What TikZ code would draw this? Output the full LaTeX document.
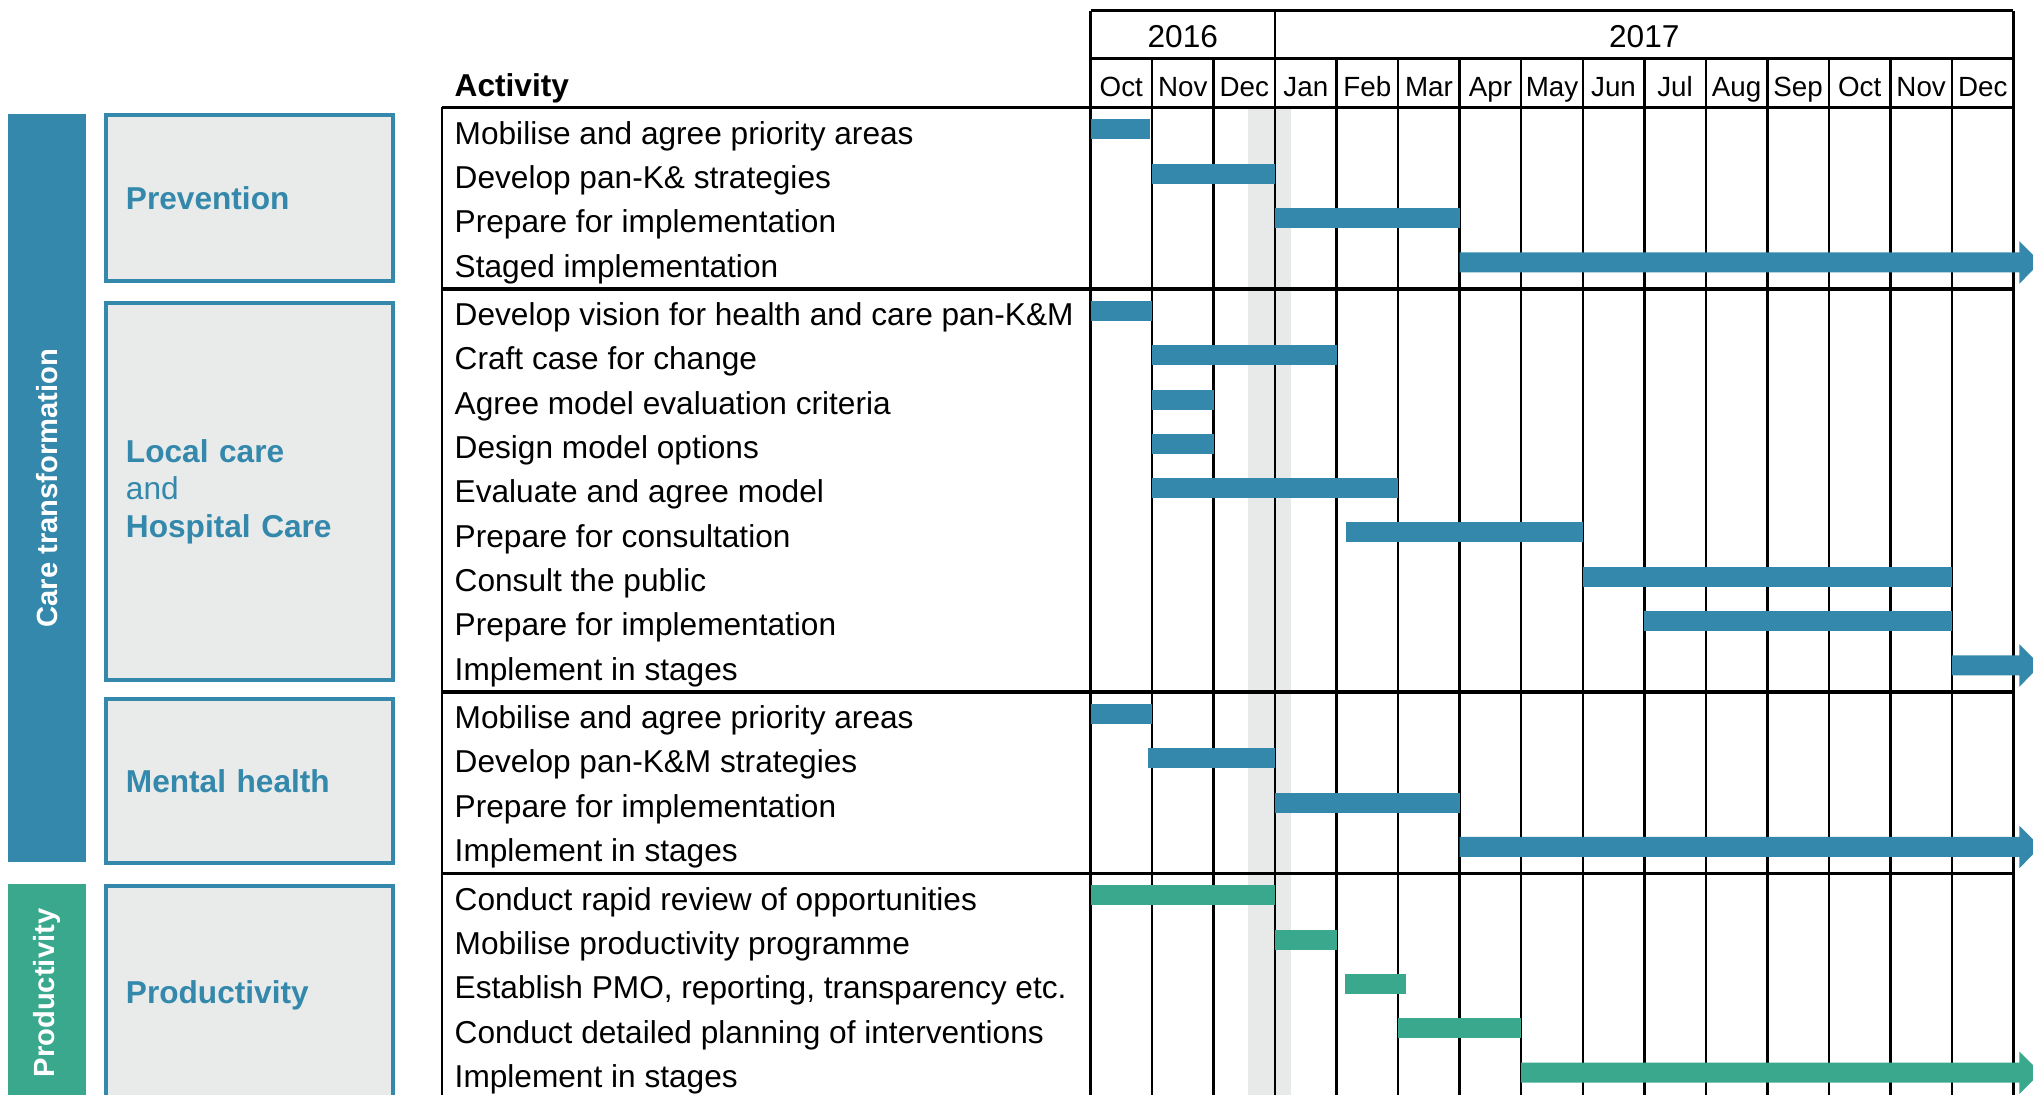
\documentclass[tikz,border=0pt]{standalone}
\usepackage{fontspec}
\setmainfont{Liberation Sans}
\usetikzlibrary{positioning,calc}
\definecolor{ctblue}{RGB}{51,136,171}
\definecolor{ctgreen}{RGB}{58,168,141}
\definecolor{boxgrey}{RGB}{233,235,234}
\definecolor{bandgrey}{RGB}{232,234,233}

\begin{document}
\begin{tikzpicture}[y=-1cm,
    declare function={rowy(\n)=1.335+0.443*\n+0.043*((\n>3)+(\n>12)+(\n>16));},
    every node/.style={font=\fontsize{9}{10.7}\selectfont, inner sep=0pt},
    actlbl/.style={anchor=base west},
    monthlbl/.style={anchor=base, font=\fontsize{7.9}{9}\selectfont},
    yearlbl/.style={anchor=base},
    secbox/.style={draw=ctblue, line width=1.1pt, fill=boxgrey, anchor=north west, minimum width=2.87cm,
        text width=2.47cm, inner xsep=0.2cm, align=left, text=ctblue, font=\fontsize{9}{10.7}\selectfont\bfseries},
    sidebar/.style={rotate=90, minimum height=0.777cm, text=white, font=\fontsize{8.3}{10}\selectfont\bfseries},
    gridline/.style={line width=0.7pt},
    sepline/.style={line width=0.9pt}]
    \useasboundingbox (0,0) rectangle (20.33,10.95);

    % left hand labels
    \node (care) [sidebar, fill=ctblue, minimum width=7.48cm] at (0.472,4.88) {Care transformation};
    \node (prodbar) [sidebar, fill=ctgreen, minimum width=2.18cm] at (0.472,9.93) {Productivity};
    \node (prev) [secbox, minimum height=1.66cm] at (1.04,1.13) {Prevention};
    \node (local) [secbox, minimum height=3.77cm] at (1.04,3.01) {Local care\\{\mdseries and}\\Hospital Care};
    \node (mental) [secbox, minimum height=1.64cm] at (1.04,6.97) {Mental health};
    \node (prod) [secbox, minimum height=2.18cm] at (1.04,8.84) {Productivity};

    % activities
    \node (acthead) [actlbl, font=\fontsize{9}{10.7}\selectfont\bfseries] at (4.54,0.967) {Activity};
    \foreach \txt [count=\i from 0] in {Mobilise and agree priority areas, Develop pan-K\& strategies,
        Prepare for implementation, Staged implementation,
        Develop vision for health and care pan-K\&M, Craft case for change, Agree model evaluation criteria,
        Design model options, Evaluate and agree model, Prepare for consultation, Consult the public,
        Prepare for implementation, Implement in stages,
        Mobilise and agree priority areas, Develop pan-K\&M strategies, Prepare for implementation,
        Implement in stages,
        Conduct rapid review of opportunities, Mobilise productivity programme,
        {Establish PMO, reporting, transparency etc.}, Conduct detailed planning of interventions,
        Implement in stages}
        \node (a\i) [actlbl] at (4.54,{rowy(\i)+0.107}) {\txt};

    \fill[bandgrey] (12.483,1.073) rectangle (12.907,11.1);

    % table rules
    \draw[sepline] (4.42,1.073) -- (20.135,1.073);
    \foreach \s in {2.89,6.92,8.735}
        \draw[sepline] (4.42,\s) -- (20.135,\s);
    \draw[gridline] (4.42,1.073) -- (4.42,11.1);

    \begin{scope}[shift={(10.905,0)}, x=0.6153cm]
        \draw[gridline] (0,0.107) -- (15,0.107);
        \draw[gridline] (0,0.583) -- (15,0.583);
        \foreach \k in {0,3,15}
            \draw[gridline] (\k,0.107) -- (\k,11.1);
        \foreach \k in {1,2,4,5,...,14}
            \draw[gridline] (\k,0.583) -- (\k,11.1);

        \node (y2016) [yearlbl] at (1.5,0.473) {2016};
        \node (y2017) [yearlbl] at (9,0.473) {2017};
        \foreach \m [count=\k from 0] in {Oct,Nov,Dec,Jan,Feb,Mar,Apr,May,Jun,Jul,Aug,Sep,Oct,Nov,Dec}
            \node (m\k) [monthlbl] at (\k+0.5,0.967) {\m};

        % bars
        \foreach \n/\a/\b/\c in {0/0/0.97/ctblue, 1/1/3/ctblue, 2/3/6/ctblue,
            4/0/1/ctblue, 5/1/4/ctblue, 6/1/2/ctblue, 7/1/2/ctblue, 8/1/5/ctblue,
            9/4.15/8/ctblue, 10/8/14/ctblue, 11/9/14/ctblue,
            13/0/1/ctblue, 14/0.93/3/ctblue, 15/3/6/ctblue,
            17/0/3/ctgreen, 18/3/4/ctgreen, 19/4.14/5.12/ctgreen, 20/5/7/ctgreen}{
            \pgfmathsetmacro{\yc}{rowy(\n)-0.04}
            \fill[\c] (\a,\yc-0.1) rectangle (\b,\yc+0.1);
        }
        \foreach \n/\a/\c in {3/6/ctblue, 12/14/ctblue, 16/6/ctblue, 21/7/ctgreen}{
            \pgfmathsetmacro{\yc}{rowy(\n)-0.04}
            \fill[\c] (\a,\yc-0.1) -- (15.095,\yc-0.1) -- (15.095,\yc-0.213) -- (15.44,\yc)
                -- (15.095,\yc+0.213) -- (15.095,\yc+0.1) -- (\a,\yc+0.1) -- cycle;
        }
    \end{scope}
\end{tikzpicture}
\end{document}
